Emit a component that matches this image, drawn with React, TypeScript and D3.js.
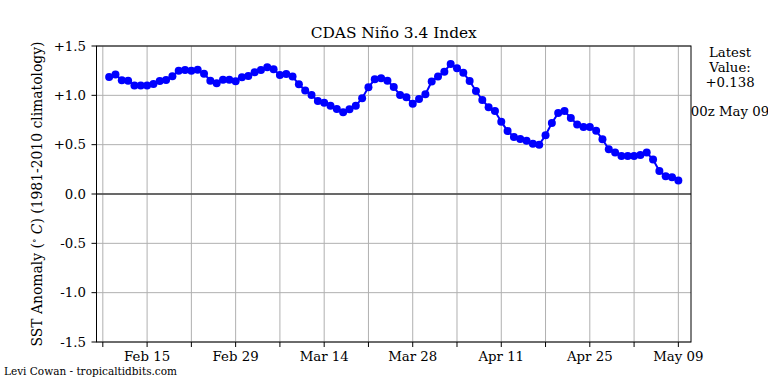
import React from "react";
import * as d3 from "d3";

// daily CDAS Nino 3.4 anomalies, Feb 09 .. May 09 2024
const firstDay = "2024-02-09";
const anomalies = [
  // Feb 09-29
  1.185, 1.21, 1.152, 1.148, 1.1, 1.1, 1.1, 1.115, 1.145, 1.155, 1.193, 1.25,
  1.257, 1.25, 1.26, 1.22, 1.148, 1.122, 1.158, 1.158, 1.142,
  // Mar
  1.183, 1.195, 1.233, 1.257, 1.284, 1.264, 1.206, 1.216, 1.19, 1.112, 1.05,
  1.003, 0.943, 0.925, 0.895, 0.861, 0.828, 0.858, 0.895, 0.97, 1.081, 1.162,
  1.172, 1.148, 1.084, 1.003, 0.98, 0.915, 0.963, 1.01, 1.14,
  // Apr
  1.19, 1.24, 1.318, 1.274, 1.23, 1.145, 1.044, 0.953, 0.88, 0.84, 0.733,
  0.638, 0.578, 0.557, 0.54, 0.51, 0.5, 0.595, 0.72, 0.82, 0.84, 0.77, 0.705,
  0.68, 0.68, 0.64, 0.555, 0.453, 0.42, 0.385,
  // May 01-09
  0.385, 0.385, 0.395, 0.42, 0.35, 0.233, 0.18, 0.17, 0.138,
];

const xTickDays = [
  "2024-02-08", "2024-02-15", "2024-02-22", "2024-02-29", "2024-03-07",
  "2024-03-14", "2024-03-21", "2024-03-28", "2024-04-04", "2024-04-11",
  "2024-04-18", "2024-04-25", "2024-05-02", "2024-05-09",
];
const xTickLabels = [
  "", "Feb 15", "", "Feb 29", "", "Mar 14", "", "Mar 28", "", "Apr 11", "",
  "Apr 25", "", "May 09",
];
const yTicks = [-1.5, -1.0, -0.5, 0.0, 0.5, 1.0, 1.5];
const yTickLabels = ["-1.5", "-1.0", "-0.5", "0.0", "+0.5", "+1.0", "+1.5"];
const latestLines = ["Latest", "Value:", "+0.138"];

const W = 768;
const H = 384;
const left = 96.5;
const right = 691;
const top = 46;
const bottom = 342;
const font = "'DejaVu Serif', serif";

export default function App() {
  const parse = d3.utcParse("%Y-%m-%d");
  const start = parse(firstDay) as Date;
  const points = anomalies.map((v, i) => ({ date: d3.utcDay.offset(start, i), v }));

  const x = d3
    .scaleUtc()
    .domain([d3.utcDay.offset(start, -2), d3.utcDay.offset(start, anomalies.length + 1)])
    .range([left, right]);
  const y = d3.scaleLinear().domain([-1.5, 1.5]).range([bottom, top]);

  const line = d3
    .line<{ date: Date; v: number }>()
    .x((d) => x(d.date))
    .y((d) => y(d.v));

  const midX = (left + right) / 2;

  return (
    <div style={{ position: "absolute", left: 0, top: 0 }}>
      <svg width={W} height={H} style={{ display: "block", background: "#fff" }} fontFamily={font}>
        {/* grid */}
        {xTickDays.map((d) => (
          <line key={"gx" + d} x1={x(parse(d) as Date)} x2={x(parse(d) as Date)} y1={top} y2={bottom}
            stroke="#b0b0b0" strokeWidth={1} />
        ))}
        {yTicks.map((t) => (
          <line key={"gy" + t} x1={left} x2={right} y1={y(t)} y2={y(t)} stroke="#b0b0b0" strokeWidth={1} />
        ))}
        <line x1={left} x2={right} y1={y(0)} y2={y(0)} stroke="#444" strokeWidth={1.4} />

        {/* series */}
        <path d={line(points) || ""} fill="none" stroke="#0000ff" strokeWidth={2} />
        {points.map((p, i) => (
          <circle key={i} cx={x(p.date)} cy={y(p.v)} r={4} fill="#0000ff" />
        ))}

        {/* frame */}
        <rect x={left} y={top} width={right - left} height={bottom - top} fill="none" stroke="#000" strokeWidth={1} />

        {/* x ticks */}
        {xTickDays.map((d, i) => {
          const px = x(parse(d) as Date);
          return (
            <g key={"tx" + d}>
              <line x1={px} x2={px} y1={bottom} y2={bottom + 5} stroke="#000" strokeWidth={1} />
              <text x={px} y={bottom + 19} textAnchor="middle" fontSize={13.3}>{xTickLabels[i]}</text>
            </g>
          );
        })}

        {/* y ticks */}
        {yTicks.map((t, i) => (
          <g key={"ty" + t}>
            <line x1={left - 5} x2={left} y1={y(t)} y2={y(t)} stroke="#000" strokeWidth={1} />
            <text x={left - 10.5} y={y(t)} dy="0.35em" textAnchor="end" fontSize={13.3}>{yTickLabels[i]}</text>
          </g>
        ))}

        {/* y label */}
        <text transform={`translate(42,${(top + bottom) / 2}) rotate(-90)`} textAnchor="middle" fontSize={13.9}>
          SST Anomaly (<tspan fontSize={9} dy={-5}>∘</tspan><tspan dy={5}> </tspan>
          <tspan fontStyle="italic">C</tspan>) (1981-2010 climatology)
        </text>

        {/* title */}
        <text x={midX} y={38} textAnchor="middle" fontSize={15.4}>CDAS Niño 3.4 Index</text>

        {/* latest value */}
        {latestLines.map((s, i) => (
          <text key={s} x={730} y={57 + i * 15} textAnchor="middle" fontSize={13.3}>{s}</text>
        ))}
        <text x={730} y={116} textAnchor="middle" fontSize={13.3}>00z May 09</text>

        <text x={4} y={374.5} fontSize={10.5}>Levi Cowan - tropicaltidbits.com</text>
      </svg>
    </div>
  );
}
